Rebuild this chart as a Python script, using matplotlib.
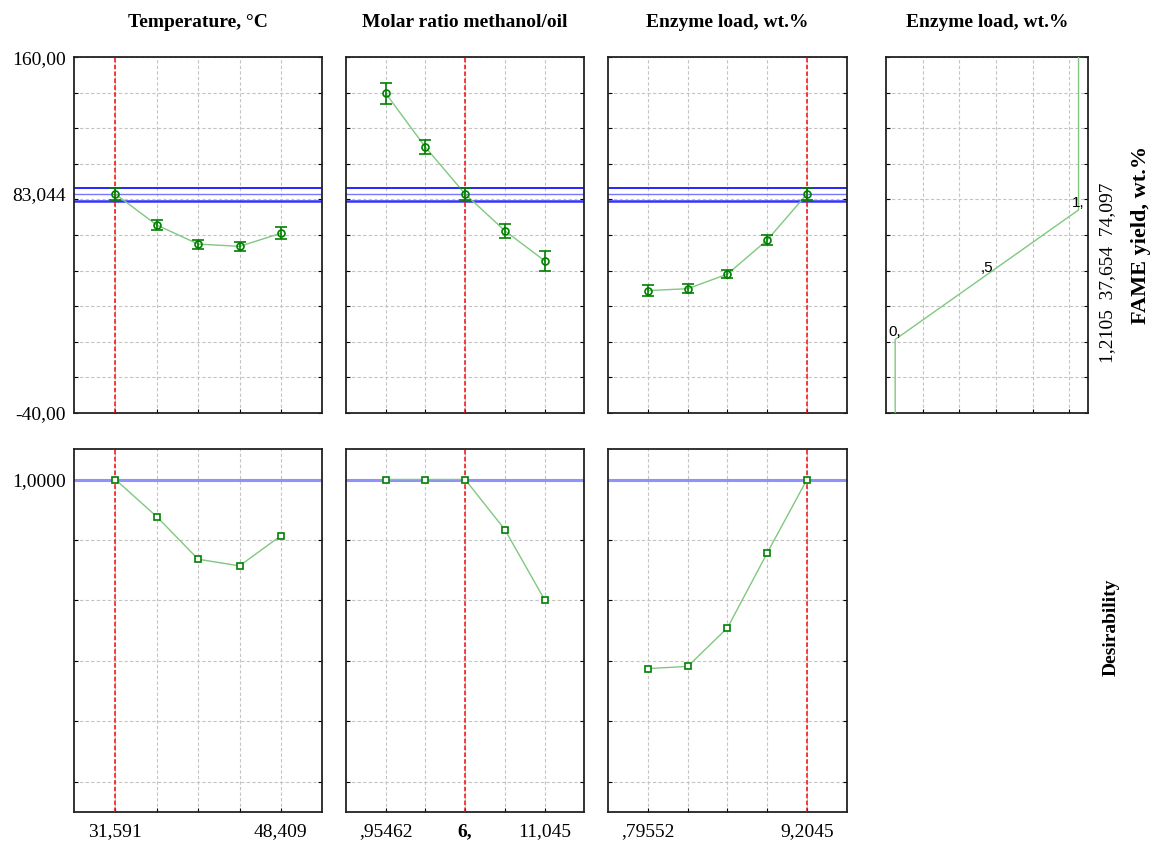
import matplotlib
matplotlib.use("Agg")
import matplotlib.pyplot as plt
from matplotlib.ticker import FixedLocator

# ---- data -------------------------------------------------------------
temp_x = [31.591, 35.795, 40.0, 44.205, 48.409]
temp_yield = [83.044, 65.6, 54.9, 53.6, 61.0]
temp_err = [3.5, 2.8, 2.5, 2.6, 3.4]
temp_desir = [1.0, 0.877, 0.736, 0.714, 0.814]

ratio_x = [0.95462, 3.4773, 6.0, 8.5227, 11.045]
ratio_yield = [139.7, 109.4, 83.044, 62.4, 45.5]
ratio_err = [5.7, 4.0, 3.5, 4.0, 5.6]
ratio_desir = [1.0, 1.0, 1.0, 0.834, 0.602]

enzyme_x = [0.79552, 2.8966, 5.0, 7.1034, 9.2045]
enzyme_yield = [28.7, 29.8, 38.0, 57.2, 83.044]
enzyme_err = [3.3, 2.7, 2.3, 3.0, 3.5]
enzyme_desir = [0.374, 0.381, 0.509, 0.757, 1.0]

current_x = [31.591, 6.0, 9.2045]
predicted = 83.044
ci_low, ci_high = 79.4, 86.4

titles = ["Temperature, \u00b0C", "Molar ratio methanol/oil",
          "Enzyme load, wt.%", "Enzyme load, wt.%"]
x_labels = [["31,591", "", "", "", "48,409"],
            [",95462", "", "6,", "", "11,045"],
            [",79552", "", "", "", "9,2045"]]

# desirability profile for FAME yield
desir_levels = [0.0, 0.5, 1.0]
desir_yield = [1.2105, 37.654, 74.097]
desir_level_labels = ["0,", ",5", "1,"]

y_top_lim = (-40, 160)
y_bot_lim = (-0.1, 1.1)

# ---- style ------------------------------------------------------------
plt.rcParams["font.family"] = ["Liberation Serif", "DejaVu Serif"]
plt.rcParams["font.size"] = 14

W, H = 1152, 843
fig = plt.figure(figsize=(W / 100, H / 100), dpi=100)

LINE_GREEN = "#80c880"
MARK_GREEN = "#008000"
RED = "#ee1010"
GRID_KW = dict(color="#c4c4c4", linestyle=(0, (3, 2)), linewidth=0.8)


def px_axes(x0, x1, ytop, ybot):
    return fig.add_axes([x0 / W, (H - ybot) / H, (x1 - x0) / W, (ybot - ytop) / H])


cols = [(74, 322.3), (346, 584.3), (608.3, 846.7)]
top_row = (57.3, 412.7)
bot_row = (449.3, 811.7)


def frame(ax):
    for s in ax.spines.values():
        s.set_linewidth(1.3)
        s.set_color("#222222")
    ax.tick_params(which="major", direction="in", length=3, width=0.8,
                   left=True, right=True, bottom=True, top=False,
                   labelleft=False, labelbottom=False)
    ax.tick_params(which="minor", length=0)
    ax.grid(True, which="major", **GRID_KW)
    ax.set_axisbelow(True)


series = [(temp_x, temp_yield, temp_err, temp_desir),
          (ratio_x, ratio_yield, ratio_err, ratio_desir),
          (enzyme_x, enzyme_yield, enzyme_err, enzyme_desir)]

for i, ((x0, x1), (xs, ys, es, ds)) in enumerate(zip(cols, series)):
    step = xs[1] - xs[0]
    xlim = (xs[0] - step, xs[-1] + step)

    # predicted yield profile
    ax = px_axes(x0, x1, *top_row)
    frame(ax)
    ax.set_xlim(xlim)
    ax.set_ylim(y_top_lim)
    ax.xaxis.set_major_locator(FixedLocator(xs))
    ax.yaxis.set_major_locator(FixedLocator(list(range(-40, 161, 20))))
    ax.axhline(ci_high, color="#0000ff", lw=1.2, zorder=2)
    ax.axhline(predicted, color="#7878ff", lw=1.0, zorder=2)
    ax.axhline(ci_low, color="#3434ff", lw=1.8, zorder=2)
    ax.axvline(current_x[i], color=RED, lw=1.1, linestyle=(0, (3, 1.5)), zorder=3)
    ax.plot(xs, ys, color=LINE_GREEN, lw=1.0, zorder=4)
    ax.errorbar(xs, ys, yerr=es, fmt="o", ms=5, mfc="none", mec=MARK_GREEN,
                mew=1.2, ecolor=MARK_GREEN, elinewidth=1.2, capsize=4,
                capthick=1.2, zorder=5)
    if i == 0:
        ax.tick_params(axis="y", labelleft=True, pad=6)
        ax.set_yticks([predicted], labels=["83,044"], minor=True)
        ax.tick_params(axis="y", which="minor", labelleft=True, pad=6)
        ax.yaxis.set_major_formatter(
            plt.FuncFormatter(lambda v, p: {-40: "-40,00", 160: "160,00"}.get(int(round(v)), "")))
    ax.set_title(titles[i], fontweight="bold", fontsize=14, pad=22)

    # desirability profile
    ax = px_axes(x0, x1, *bot_row)
    frame(ax)
    ax.set_xlim(xlim)
    ax.set_ylim(y_bot_lim)
    ax.yaxis.set_major_locator(FixedLocator([0.0, 0.2, 0.4, 0.6, 0.8, 1.0]))
    ax.axhline(1.0, color="#9090ff", lw=2.2, zorder=2)
    ax.axvline(current_x[i], color=RED, lw=1.1, linestyle=(0, (3, 1.5)), zorder=3)
    ax.plot(xs, ds, color=LINE_GREEN, lw=1.0, zorder=4)
    ax.plot(xs, ds, "s", ms=5, mfc="white", mec=MARK_GREEN, mew=1.2, zorder=5)
    ax.set_xticks(xs, labels=x_labels[i])
    ax.tick_params(axis="x", labelbottom=True, pad=8)
    if i == 1:
        for t in ax.get_xticklabels():
            if t.get_text() == "6,":
                t.set_fontweight("bold")
    if i == 0:
        ax.tick_params(axis="y", labelleft=True, pad=6)
        ax.yaxis.set_major_formatter(
            plt.FuncFormatter(lambda v, p: "1,0000" if abs(v - 1.0) < 1e-9 else ""))

# desirability function for the response
ax = px_axes(886, 1087.7, *top_row)
frame(ax)
ax.set_xlim(-0.05, 1.05)
ax.set_ylim(y_top_lim)
ax.xaxis.set_major_locator(FixedLocator([0.15, 0.35, 0.55, 0.75, 0.95]))
ax.yaxis.set_major_locator(FixedLocator(list(range(-40, 161, 20))))
fx = [desir_levels[0]] + desir_levels + [desir_levels[-1]]
fy = [y_top_lim[0]] + desir_yield + [y_top_lim[1]]
ax.plot(fx, fy, color=LINE_GREEN, lw=1.0, zorder=4)
for lv, yv, lab in zip(desir_levels, desir_yield, desir_level_labels):
    ax.text(lv, yv, lab, family=["Liberation Sans", "DejaVu Sans"], fontsize=11,
            ha="center", va="bottom", zorder=5)
ax.set_title(titles[3], fontweight="bold", fontsize=14, pad=22)

fig.text(1108 / W, 1 - 273 / H, "1,2105  37,654  74,097", rotation=90,
         ha="center", va="center", fontsize=14)
fig.text(1141 / W, 1 - 235 / H, "FAME yield, wt.%", rotation=90,
         ha="center", va="center", fontsize=16, fontweight="bold")
fig.text(1111 / W, 1 - 627 / H, "Desirability", rotation=90,
         ha="center", va="center", fontsize=14, fontweight="bold")

fig.savefig("out.png", dpi=100, facecolor="white")
